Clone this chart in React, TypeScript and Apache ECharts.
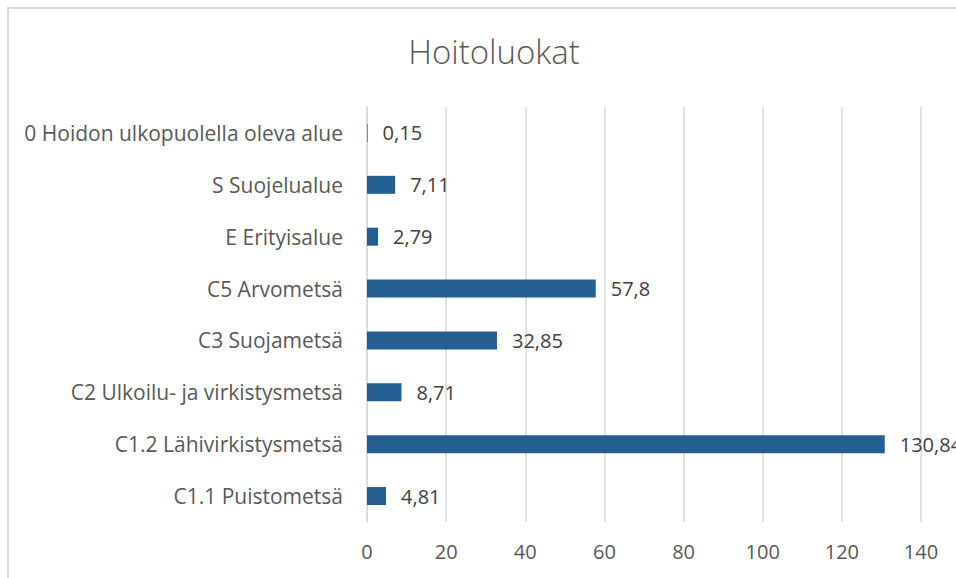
import React, { useEffect, useRef } from "react";
import * as echarts from "echarts";

const categories = [
  "C1.1 Puistometsä",
  "C1.2 Lähivirkistysmetsä",
  "C2 Ulkoilu- ja virkistysmetsä",
  "C3 Suojametsä",
  "C5 Arvometsä",
  "E Erityisalue",
  "S Suojelualue",
  "0 Hoidon ulkopuolella oleva alue",
];
const values = [4.81, 130.84, 8.71, 32.85, 57.8, 2.79, 7.11, 0.15];
const titleText = "Hoitoluokat";

export default function App() {
  const ref = useRef<HTMLDivElement>(null);
  useEffect(() => {
    if (!ref.current) return;
    const chart = echarts.init(ref.current, undefined, { renderer: "svg" });
    const font = "'Open Sans', 'Noto Sans', sans-serif";
    chart.setOption({
      animation: false,
      backgroundColor: "#ffffff",
      title: {
        text: titleText,
        left: 489,
        top: 30,
        textAlign: "center",
        textStyle: {
          fontFamily: "'Open Sans', sans-serif",
          fontSize: 33,
          fontWeight: 300,
          color: "#595959",
        },
      },
      graphic: [
        {
          type: "rect",
          shape: { x: 8, y: 8, width: 1200, height: 1200 },
          style: { fill: "none", stroke: "#D9D9D9", lineWidth: 2 },
          silent: true,
        },
      ],
      grid: { left: 367, right: 35, top: 107, bottom: 56, containLabel: false },
      xAxis: {
        type: "value",
        min: 0,
        max: 140,
        interval: 20,
        axisLine: { show: false },
        axisTick: { show: false },
        splitLine: { show: true, lineStyle: { color: "#D9D9D9", width: 1.5 } },
        axisLabel: {
          color: "#595959",
          fontFamily: font,
          fontSize: 20,
          margin: 19,
        },
      },
      yAxis: {
        type: "category",
        data: categories,
        axisLine: { show: true, lineStyle: { color: "#D9D9D9", width: 1.5 } },
        axisTick: { show: false },
        axisLabel: {
          color: "#595959",
          fontFamily: font,
          fontSize: 21,
          margin: 24,
        },
      },
      series: [
        {
          type: "bar",
          data: values,
          barWidth: 18,
          itemStyle: { color: "#255E91" },
          label: {
            show: true,
            position: "right",
            distance: 15,
            color: "#404040",
            fontFamily: font,
            fontSize: 20,
            formatter: (p: any) => String(p.value).replace(".", ","),
          },
        },
      ],
    });
    return () => chart.dispose();
  }, []);
  return (
    <div
      ref={ref}
      style={{ position: "fixed", left: 0, top: 0, width: 956, height: 578 }}
    />
  );
}
